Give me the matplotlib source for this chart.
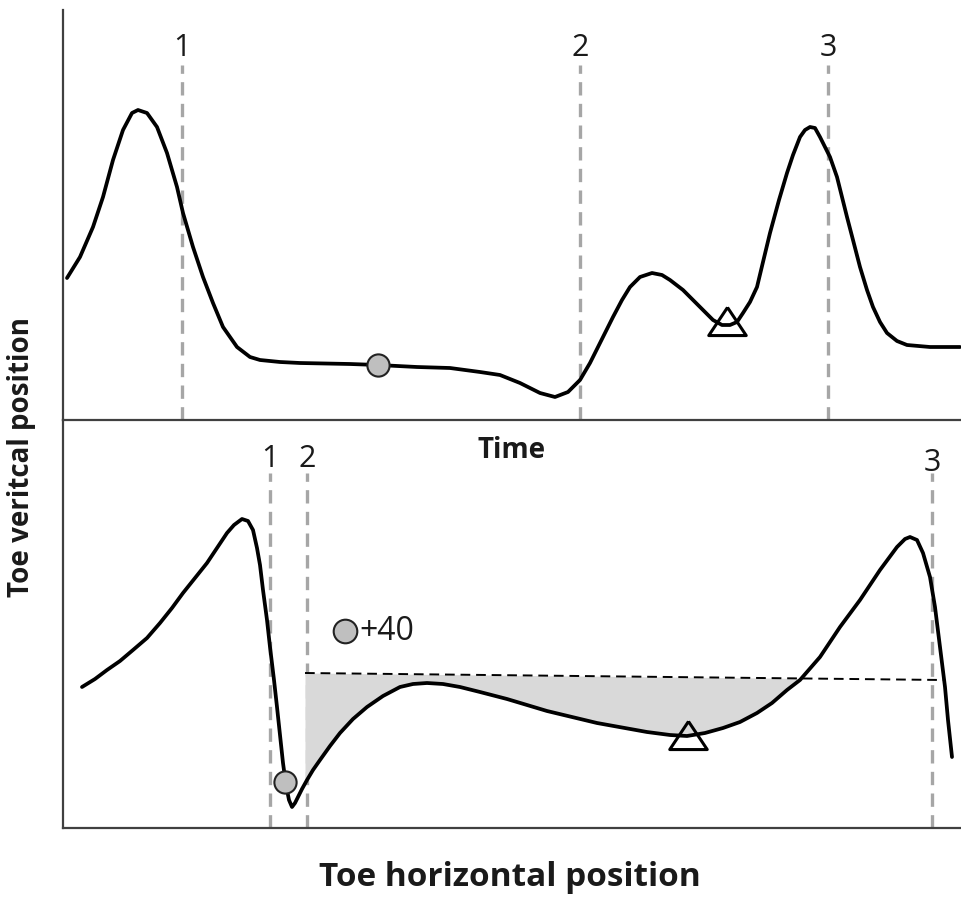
import numpy as np
import matplotlib
matplotlib.use("Agg")
import matplotlib.pyplot as plt

plt.rcParams['font.family'] = ['Open Sans', 'DejaVu Sans']

# top panel: toe vertical position over time (units)
top_x = [67, 80, 93, 103, 113, 123, 132, 138, 147, 157, 167, 177, 183, 193, 203,
         213, 223, 237, 250, 260, 280, 300, 350, 378, 417, 450, 480, 500, 520, 540,
         555, 568, 580, 590, 600, 613, 622, 630, 640, 652, 662, 670, 683, 693, 703,
         713, 722, 730, 737, 743, 750, 757, 763, 770, 779, 787, 793, 800, 805, 810,
         815, 820, 825, 830, 837, 847, 853, 860, 867, 873, 880, 887, 897, 907, 930,
         960]
top_y = [142, 163, 193, 223, 260, 290, 307, 310, 307, 293, 267, 233, 207, 173, 143,
         117, 93, 73, 63, 60, 58, 57, 56, 55, 53, 52, 48, 45, 37, 27,
         23, 28, 40, 57, 77, 103, 120, 133, 143, 147, 145, 140, 130, 120, 110,
         100, 95, 95, 98, 107, 118, 133, 158, 187, 220, 247, 265, 283, 290, 293,
         292, 283, 273, 263, 243, 203, 180, 153, 130, 113, 98, 87, 79, 75, 73,
         73]
top_events = [182, 580, 828]
top_labels = ['1', '2', '3']

# bottom panel: toe vertical vs horizontal position
bot_x = [82, 95, 107, 120, 133, 147, 160, 172, 183, 195, 207, 217, 227, 234, 242,
         248, 253, 257, 260, 263, 267, 270, 274, 277, 280, 283, 286, 289, 292, 295,
         298, 302, 307, 313, 320, 330, 340, 353, 367, 383, 400, 413, 427, 443, 460,
         480, 507, 547, 597, 647, 670, 687, 705, 723, 740, 757, 772, 787, 800, 820,
         840, 860, 880, 897, 905, 910, 917, 923, 930, 935, 940, 945, 948, 952]
bot_y = [141, 149, 158, 167, 178, 190, 205, 220, 235, 250, 265, 280, 295, 303, 309,
         307, 298, 280, 263, 238, 208, 181, 148, 121, 93, 65, 43, 28, 21, 25,
         31, 39, 48, 58, 68, 82, 95, 109, 121, 132, 141, 144, 145, 144, 141,
         136, 129, 117, 105, 96, 93, 92, 95, 100, 106, 115, 125, 138, 148, 171,
         201, 228, 258, 281, 289, 291, 288, 275, 251, 221, 181, 141, 108, 71]
bot_events = [270, 307, 932]
bot_labels = ['1', '2', '3']
ref_line_x = [305, 943]
ref_line_y = [155, 148]

fig = plt.figure(figsize=(9.62, 8.99), dpi=100)
W, H = 962, 899
ax1 = fig.add_axes([63 / W, 1 - 420 / H, (962 - 63) / W, (420 - 10) / H])
ax2 = fig.add_axes([63 / W, 1 - 828 / H, (962 - 63) / W, (828 - 420) / H])

spine_col = '#404040'
dash_col = '#a6a6a6'
txt_col = '#1a1a1a'
for ax in (ax1, ax2):
    ax.set_xlim(63, 962)
    ax.set_xticks([])
    ax.set_yticks([])
    ax.spines['top'].set_visible(False)
    ax.spines['right'].set_visible(False)
    for s in ('left', 'bottom'):
        ax.spines[s].set_color(spine_col)
        ax.spines[s].set_linewidth(1.6)
    ax.patch.set_alpha(0)

ax1.set_ylim(0, 410)
ax2.set_ylim(0, 408)

# flat open triangle (the figure is a bit wide)
tri = [(0, 0.75), (-1, -0.75), (1, -0.75), (0, 0.75)]

# top panel
for x, lab in zip(top_events, top_labels):
    ax1.plot([x, x], [0, 355], color=dash_col, lw=2.4, dashes=(4, 2.5), zorder=1)
    ax1.text(x, 372, lab, ha='center', va='center', fontsize=22, color=txt_col)
ax1.plot(top_x, top_y, color='black', lw=2.7, solid_joinstyle='round',
         solid_capstyle='round', zorder=3)
ax1.plot(378, 55, 'o', ms=16, mfc='#bfbfbf', mec='#222222', mew=1.5, zorder=4)
ax1.plot(727, 99, marker=tri, ms=27, mfc='none', mec='black', mew=2.2, zorder=4)

# bottom panel
for x, lab in zip(bot_events, bot_labels):
    ax2.plot([x, x], [0, 355], color=dash_col, lw=2.4, dashes=(4, 2.5), zorder=1)
    ax2.text(x, 369 if lab != '3' else 365, lab, ha='center', va='center',
             fontsize=22, color=txt_col)

bx = np.array(bot_x, dtype=float)
by = np.array(bot_y, dtype=float)
slope = (ref_line_y[1] - ref_line_y[0]) / (ref_line_x[1] - ref_line_x[0])
mask = (bx >= 307) & (bx <= 803)
fx = np.concatenate([[ref_line_x[0]], bx[mask]])
fy = np.concatenate([[48], by[mask]])
fl = ref_line_y[0] + slope * (fx - ref_line_x[0])
ax2.fill_between(fx, fy, fl, color='#d9d9d9', lw=0, zorder=2)
ax2.plot(ref_line_x, ref_line_y, color='black', lw=1.4, dashes=(5, 3), zorder=3)
ax2.plot(bot_x, bot_y, color='black', lw=2.7, solid_joinstyle='round',
         solid_capstyle='round', zorder=3)
ax2.plot(285, 46, 'o', ms=16, mfc='#bfbfbf', mec='#222222', mew=1.5, zorder=4)
ax2.plot(688, 93, marker=tri, ms=27, mfc='none', mec='black', mew=2.2, zorder=4)
ax2.plot(345, 197, 'o', ms=17, mfc='#bfbfbf', mec='#222222', mew=1.5, zorder=4)
ax2.text(359, 197, '+40', ha='left', va='center', fontsize=23, color=txt_col)

fig.text(512 / W, 1 - 450 / H, 'Time', ha='center', va='center',
         fontsize=20, fontweight='bold', color=txt_col)
fig.text(22 / W, 1 - 457 / H, 'Toe veritcal position', ha='center', va='center',
         rotation=90, fontsize=20, fontweight='bold', color=txt_col)
fig.text(510 / W, 1 - 878 / H, 'Toe horizontal position', ha='center', va='center',
         fontsize=24, fontweight='bold', color=txt_col)

fig.savefig('out.png', dpi=100)
